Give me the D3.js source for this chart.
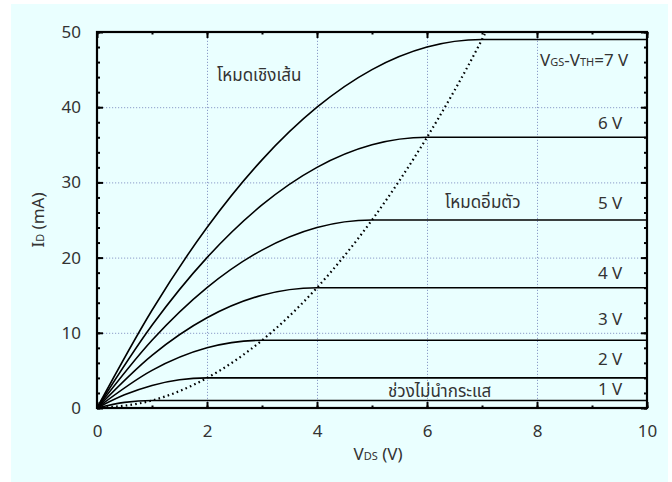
<!DOCTYPE html>
<html>
<head>
<meta charset="utf-8">
<script src="https://cdn.jsdelivr.net/npm/d3@7"></script>
<style>
  body { margin: 0; background: #fff; }
  text { font-family: "Noto Sans", "Noto Sans Thai", "DejaVu Sans", sans-serif; fill: #333; }
</style>
</head>
<body>
<div id="chart"></div>
<script>
// curves: [V_DS, I_D] pairs, one per V_GS - V_TH
const curve1 = [[0, 0], [0.5, 0.75], [1, 1], [10, 1]]
const curve2 = [[0, 0], [0.5, 1.75], [1, 3], [1.5, 3.75], [2, 4], [10, 4]]
const curve3 = [[0, 0], [1, 5], [2, 8], [3, 9], [10, 9]]
const curve4 = [[0, 0], [1, 7], [2, 12], [3, 15], [4, 16], [10, 16]]
const curve5 = [[0, 0], [1, 9], [2, 16], [3, 21], [4, 24], [5, 25], [10, 25]]
const curve6 = [[0, 0], [1, 11], [2, 20], [3, 27], [4, 32], [5, 35], [6, 36], [10, 36]]
const curve7 = [[0, 0], [1, 13], [2, 24], [3, 33], [4, 40], [5, 45], [6, 48], [7, 49], [10, 49]]
// boundary between the two modes (dotted)
const boundary = [[0, 0], [1, 1], [2, 4], [3, 9], [4, 16], [5, 25], [6, 36], [7, 49], [7.07, 50]]

const curveLabels = ['1 V', '2 V', '3 V', '4 V', '5 V', '6 V']
const curveLabelY = [1.7, 5.7, 11, 17.2, 26.5, 37.1]
const xTicks = [0, 2, 4, 6, 8, 10]
const yTicks = [0, 10, 20, 30, 40, 50]

const width = 672
const height = 482
const margin = { left: 97, right: 25, top: 32, bottom: 74 }

const svg = d3.select('#chart').append('svg').attr('width', width).attr('height', height)

svg.append('rect').attr('x', 11).attr('y', 4).attr('width', 657).attr('height', 478).attr('fill', '#eaffff')

const x = d3.scaleLinear().domain([0, 10]).range([margin.left, width - margin.right])
const y = d3.scaleLinear().domain([0, 50]).range([height - margin.bottom, margin.top])

// grid
const grid = svg.append('g').attr('stroke', '#8d9dc9').attr('stroke-width', 1).attr('stroke-dasharray', '1.2,1.8')
grid.selectAll('.gx').data(xTicks.slice(1, -1)).join('line')
    .attr('x1', d => x(d) + 0.5).attr('x2', d => x(d) + 0.5)
    .attr('y1', y(0)).attr('y2', y(50))
grid.selectAll('.gy').data(yTicks.slice(1, -1)).join('line')
    .attr('y1', d => y(d) + 0.5).attr('y2', d => y(d) + 0.5)
    .attr('x1', x(0)).attr('x2', x(10))

// axes with inward ticks on all four sides
const xMinor = d3.range(0, 10.01, 1)
const yMinor = d3.range(0, 50.01, 2)
svg.append('g').attr('transform', `translate(0,${y(0)})`)
    .call(d3.axisBottom(x).tickValues(xMinor).tickSize(-2.5).tickFormat(''))
svg.append('g').attr('transform', `translate(0,${y(0)})`)
    .call(d3.axisBottom(x).tickValues(xTicks).tickSize(-6).tickPadding(17).tickFormat(d3.format('d')))
svg.append('g').attr('transform', `translate(0,${y(50)})`)
    .call(d3.axisTop(x).tickValues(xMinor).tickSize(-2.5).tickFormat(''))
svg.append('g').attr('transform', `translate(0,${y(50)})`)
    .call(d3.axisTop(x).tickValues(xTicks).tickSize(-6).tickFormat(''))
svg.append('g').attr('transform', `translate(${x(0)},0)`)
    .call(d3.axisLeft(y).tickValues(yMinor).tickSize(-3).tickFormat(''))
svg.append('g').attr('transform', `translate(${x(0)},0)`)
    .call(d3.axisLeft(y).tickValues(yTicks).tickSize(-6).tickPadding(16).tickFormat(d3.format('d')))
svg.append('g').attr('transform', `translate(${x(10)},0)`)
    .call(d3.axisRight(y).tickValues(yMinor).tickSize(-3).tickFormat(''))
svg.append('g').attr('transform', `translate(${x(10)},0)`)
    .call(d3.axisRight(y).tickValues(yTicks).tickSize(-6).tickFormat(''))

svg.selectAll('.domain').remove()
svg.selectAll('.tick line').attr('stroke', '#000').attr('stroke-width', 2)
svg.selectAll('.tick text').style('font-size', '17px').attr('fill', '#333')

svg.append('rect')
    .attr('x', x(0)).attr('y', y(50))
    .attr('width', x(10) - x(0)).attr('height', y(0) - y(50))
    .attr('fill', 'none').attr('stroke', '#000').attr('stroke-width', 2.2)

// curves
const line = d3.line().x(d => x(d[0])).y(d => y(d[1])).curve(d3.curveMonotoneX)
svg.append('g')
    .selectAll('path')
    .data([curve1, curve2, curve3, curve4, curve5, curve6, curve7])
    .join('path')
    .attr('d', line)
    .attr('fill', 'none')
    .attr('stroke', '#000')
    .attr('stroke-width', 1.6)

svg.append('path')
    .datum(boundary)
    .attr('d', line)
    .attr('fill', 'none')
    .attr('stroke', '#000')
    .attr('stroke-width', 2.2)
    .attr('stroke-dasharray', '1.6,3.2')

// curve labels
svg.append('g')
    .selectAll('text')
    .data(curveLabels)
    .join('text')
    .attr('x', x(9.55))
    .attr('y', (d, i) => y(curveLabelY[i]))
    .attr('text-anchor', 'end')
    .style('font-size', '17px')
    .text(d => d)

const label7 = svg.append('text').attr('x', x(9.66)).attr('y', y(45.5)).attr('text-anchor', 'end').style('font-size', '17px')
label7.append('tspan').text('V')
label7.append('tspan').style('font-size', '11px').text('GS')
label7.append('tspan').text('-V')
label7.append('tspan').style('font-size', '11px').text('TH')
label7.append('tspan').text('=7 V')

// region labels
svg.append('text').attr('x', 217).attr('y', 81).style('font-size', '17px').text('โหมดเชิงเส้น')
svg.append('text').attr('x', 445).attr('y', 208).style('font-size', '17px').text('โหมดอิ่มตัว')
svg.append('text').attr('x', 388).attr('y', 397).style('font-size', '17px').text('ช่วงไม่นำกระแส')

// axis titles
const xt = svg.append('text').attr('x', 378).attr('y', 460).attr('text-anchor', 'middle').style('font-size', '17px')
xt.append('tspan').text('V')
xt.append('tspan').style('font-size', '11px').text('DS')
xt.append('tspan').text(' (V)')

const yt = svg.append('text').attr('transform', `translate(44,${(y(0) + y(50)) / 2}) rotate(-90)`)
    .attr('text-anchor', 'middle').style('font-size', '17px')
yt.append('tspan').text('I')
yt.append('tspan').style('font-size', '11px').text('D')
yt.append('tspan').text(' (mA)')
</script>
</body>
</html>
